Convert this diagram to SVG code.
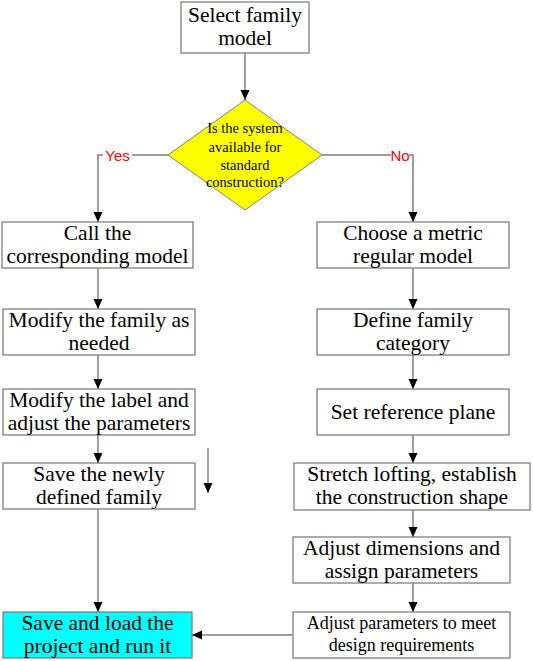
<svg xmlns="http://www.w3.org/2000/svg" width="533" height="661" viewBox="0 0 533 661">
<style>
.box{fill:#fff;stroke:#808080;stroke-width:1.3}
text.t{font-family:"Liberation Serif","Times New Roman",serif;font-size:21.5px;fill:#000;text-anchor:middle}
text.s{font-size:18px}
text.d{font-size:14.5px}
.c{fill:none;stroke:#808080;stroke-width:1.5}
text.lbl{font-family:"Liberation Sans",Arial,sans-serif;font-size:15px;fill:#ff0000;text-anchor:middle}
</style>
<defs>
<marker id="ah" markerUnits="userSpaceOnUse" markerWidth="10" markerHeight="13" refX="10" refY="4.5" orient="auto">
<path d="M0,0 L10,4.5 L0,9 Z" fill="#000"/>
</marker>
</defs>
<rect width="533" height="661" fill="#fff"/>
<g id="connectors">
<path class="c" d="M245 53 V100" marker-end="url(#ah)"/>
<path class="c" d="M168 155 H98 V222" marker-end="url(#ah)"/>
<path class="c" d="M322 155 H413 V222" marker-end="url(#ah)"/>
<path class="c" d="M98 268 V309" marker-end="url(#ah)"/>
<path class="c" d="M98 355 V389" marker-end="url(#ah)"/>
<path class="c" d="M98 435 V463" marker-end="url(#ah)"/>
<path class="c" d="M98 509 V612" marker-end="url(#ah)"/>
<path class="c" d="M208 448 V493" marker-end="url(#ah)"/>
<path class="c" d="M413 268 V309" marker-end="url(#ah)"/>
<path class="c" d="M413 355 V389" marker-end="url(#ah)"/>
<path class="c" d="M413 435 V463" marker-end="url(#ah)"/>
<path class="c" d="M413 510 V537" marker-end="url(#ah)"/>
<path class="c" d="M413 583 V612" marker-end="url(#ah)"/>
<path class="c" d="M293 635 H192" marker-end="url(#ah)"/>
<rect x="103" y="147" width="29" height="16" fill="#fff"/>
<text class="lbl" x="117.5" y="160.5">Yes</text>
<rect x="391" y="147" width="18" height="16" fill="#fff"/>
<text class="lbl" x="400" y="160.5">No</text>
</g>
<g id="select">
<rect class="box" x="181" y="2" width="128" height="51"/>
<text class="t" x="245" y="22">Select family</text>
<text class="t" x="245" y="45">model</text>
</g>
<g id="decision">
<polygon points="245,100 322,155 245,210 168,155" fill="#ffff00" stroke="#808080" stroke-width="1"/>
<text class="t d" x="245" y="133">Is the system</text>
<text class="t d" x="245" y="152">available for</text>
<text class="t d" x="245" y="170">standard</text>
<text class="t d" x="245" y="187">construction?</text>
</g>
<g id="call">
<rect class="box" x="2" y="222" width="191" height="46"/>
<text class="t" x="97.5" y="240">Call the</text>
<text class="t" x="97.5" y="263">corresponding model</text>
</g>
<g id="modify-family">
<rect class="box" x="3" y="309" width="192" height="46"/>
<text class="t" x="99" y="327">Modify the family as</text>
<text class="t" x="99" y="350">needed</text>
</g>
<g id="modify-label">
<rect class="box" x="3" y="389" width="192" height="46"/>
<text class="t" x="99" y="407">Modify the label and</text>
<text class="t" x="99" y="430">adjust the parameters</text>
</g>
<g id="save-new">
<rect class="box" x="3" y="463" width="192" height="46"/>
<text class="t" x="99" y="481">Save the newly</text>
<text class="t" x="99" y="504">defined family</text>
</g>
<g id="save-load">
<rect x="3" y="612" width="189" height="46" fill="#00ffff" stroke="#808080" stroke-width="1.3"/>
<text class="t" x="97.5" y="630">Save and load the</text>
<text class="t" x="97.5" y="653">project and run it</text>
</g>
<g id="choose">
<rect class="box" x="317" y="222" width="192" height="46"/>
<text class="t" x="413" y="240">Choose a metric</text>
<text class="t" x="413" y="263">regular model</text>
</g>
<g id="define">
<rect class="box" x="317" y="309" width="192" height="46"/>
<text class="t" x="413" y="327">Define family</text>
<text class="t" x="413" y="350">category</text>
</g>
<g id="plane">
<rect class="box" x="317" y="389" width="192" height="46"/>
<text class="t" x="413" y="419">Set reference plane</text>
</g>
<g id="stretch">
<rect class="box" x="294" y="463" width="236" height="47"/>
<text class="t" x="412" y="481">Stretch lofting, establish</text>
<text class="t" x="412" y="504">the construction shape</text>
</g>
<g id="adjust-dim">
<rect class="box" x="293" y="537" width="217" height="46"/>
<text class="t" x="401.5" y="555">Adjust dimensions and</text>
<text class="t" x="401.5" y="578">assign parameters</text>
</g>
<g id="adjust-param">
<rect class="box" x="293" y="612" width="217" height="46"/>
<text class="t s" x="401.5" y="629">Adjust parameters to meet</text>
<text class="t s" x="401.5" y="651">design requirements</text>
</g>
</svg>
